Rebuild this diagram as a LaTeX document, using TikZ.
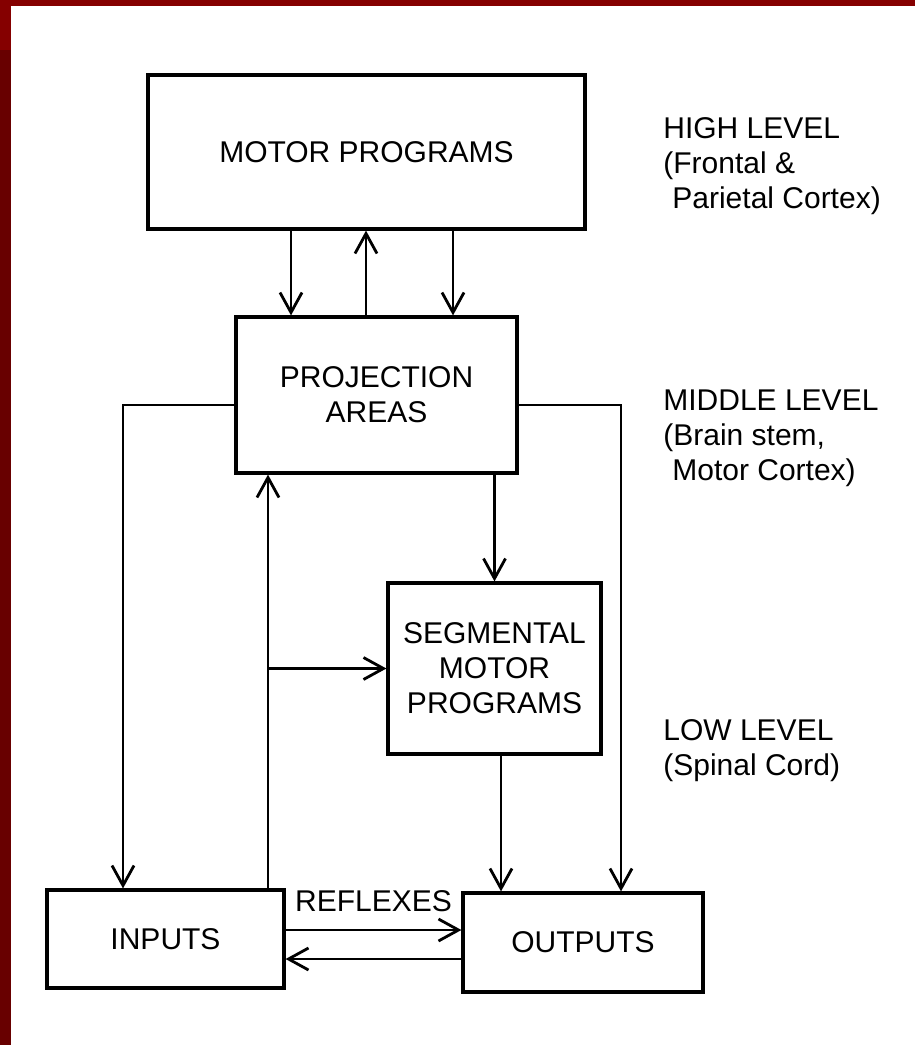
\documentclass[tikz,border=0pt]{standalone}
\usepackage{fontspec}
\setmainfont{Liberation Sans}
\usepackage{xcolor}
\usetikzlibrary{arrows.meta}
\definecolor{frametop}{RGB}{133,0,0}
\definecolor{frameside}{RGB}{104,0,0}
\tikzset{
  lvlbox/.style={draw,line width=1.6pt,align=center,inner sep=0pt},
  lvlarr/.style={-{Straight Barb[length=10pt,width=11pt,line width=1.4pt]},line width=1.3pt},
  lvltag/.style={align=left,anchor=north west,inner sep=0pt}
}
\begin{document}
\begin{tikzpicture}[x=0.5pt,y=-0.5pt,font=\fontsize{15}{17.5}\selectfont]
\useasboundingbox (0,0) rectangle (915,1045);
\fill[white] (0,0) rectangle (915,1045);
\fill[frametop] (0,0) rectangle (915,6);
\fill[frametop] (0,0) rectangle (11,50);
\fill[frameside] (0,50) rectangle (11,1045);

% boxes
\node[lvlbox,minimum width=218.5pt,minimum height=77pt] (mp) at (366.5,152) {MOTOR PROGRAMS};
\node[lvlbox,minimum width=140.5pt,minimum height=78pt] (pa) at (376.5,395) {PROJECTION\\AREAS};
\node[lvlbox,minimum width=106.5pt,minimum height=85.5pt] (seg) at (494.5,668.5) {SEGMENTAL\\MOTOR\\PROGRAMS};
\node[lvlbox,minimum width=118.5pt,minimum height=49pt] (inp) at (165.5,939) {INPUTS};
\node[lvlbox,minimum width=120pt,minimum height=49.5pt] (outp) at (583,942.5) {OUTPUTS};

% level tags
\node[lvltag] (high) at (663,117) {HIGH LEVEL\\(Frontal \&\\\hspace*{0.3em}Parietal Cortex)};
\node[lvltag] (mid) at (663,389) {MIDDLE LEVEL\\(Brain stem,\\\hspace*{0.3em}Motor Cortex)};
\node[lvltag] (low) at (663,719) {LOW LEVEL\\(Spinal Cord)};

% columns and rows of the connectors
\coordinate (colA) at (291,0);
\coordinate (colB) at (366,0);
\coordinate (colC) at (453,0);
\coordinate (colL) at (123,0);
\coordinate (colR) at (621,0);
\coordinate (colU) at (268,0);
\coordinate (colS) at (501,0);
\coordinate (rowP) at (0,405);
\coordinate (rowF) at (0,930);
\coordinate (rowB) at (0,959);

\draw[lvlarr] (mp.south -| colA) -- (pa.north -| colA);
\draw[lvlarr] (pa.north -| colB) -- (mp.south -| colB);
\draw[lvlarr] (mp.south -| colC) -- (pa.north -| colC);
\draw[lvlarr] (pa.west |- rowP) -| (inp.north -| colL);
\draw[lvlarr] (pa.east |- rowP) -| (outp.north -| colR);
\draw[lvlarr] (inp.north -| colU) -- (pa.south -| colU);
\draw[lvlarr] (colU |- seg.west) -- (seg.west);
\draw[lvlarr] (pa.south -| seg.north) -- (seg.north);
\draw[lvlarr] (seg.south -| colS) -- (outp.north -| colS);
\draw[lvlarr] (inp.east |- rowF) -- node[above=5pt] (refl) {REFLEXES} (outp.west |- rowF);
\draw[lvlarr] (outp.west |- rowB) -- (inp.east |- rowB);
\end{tikzpicture}
\end{document}
